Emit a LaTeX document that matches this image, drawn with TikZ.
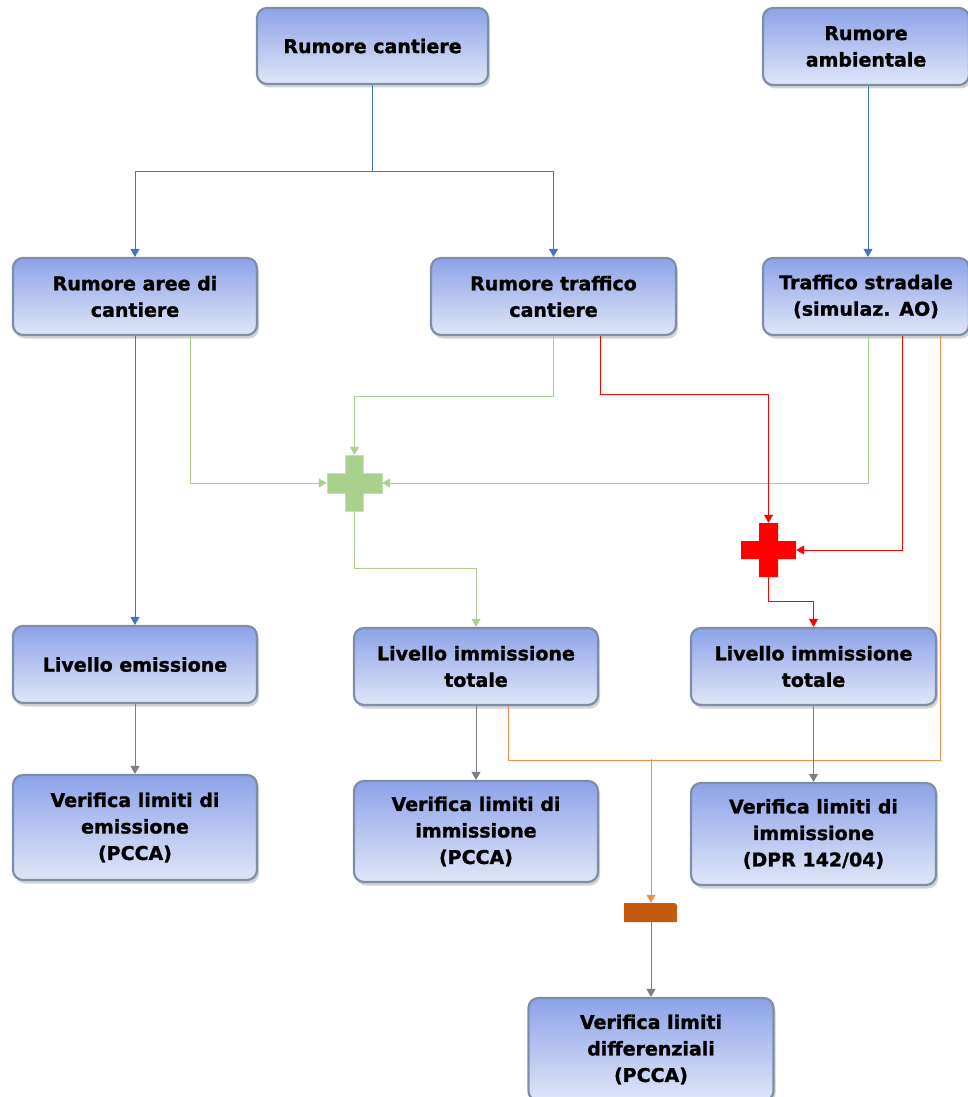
\documentclass[tikz,border=0pt]{standalone}
\usepackage{fontspec}
\setmainfont{DejaVu Sans}[BoldFeatures={FakeBold=1.2}]
\usetikzlibrary{arrows.meta,shadows,calc}
\definecolor{bxtop}{RGB}{140,163,232}
\definecolor{bxbot}{RGB}{224,230,248}
\definecolor{bxborder}{RGB}{126,142,168}
\definecolor{cblue}{RGB}{68,114,196}
\definecolor{cgreen}{RGB}{169,209,142}
\definecolor{cgreenb}{RGB}{197,224,180}
\definecolor{cred}{RGB}{255,0,0}
\definecolor{corange}{RGB}{240,140,80}
\definecolor{cbar}{RGB}{197,90,17}
\definecolor{cgrey}{RGB}{127,127,127}
\tikzset{
  box/.style={draw=bxborder, line width=2.2pt, rounded corners=10pt,
    top color=bxtop, bottom color=bxbot, align=center, inner sep=0pt,
    font=\bfseries\fontsize{19}{26.5}\selectfont,
    drop shadow={opacity=0.35, shadow xshift=2pt, shadow yshift=-3.5pt}},
  conn/.style={line width=1pt, -{Triangle[width=9pt,length=8pt]}},
  plain/.style={line width=1pt},
  anchorbox/.style={inner sep=0pt, minimum width=54pt, minimum height=54pt},
}
\begin{document}
\begin{tikzpicture}[x=1pt,y=-1pt]
\useasboundingbox (0,0) rectangle (968,1097);
\begin{scope}
\clip (0,0) rectangle (968,1097);
% boxes
\node[box, minimum width=231pt, minimum height=76pt] (cant) at (372.5,46) {Rumore cantiere};
\node[box, minimum width=206pt, minimum height=77pt] (amb) at (866,46.5) {Rumore\\ambientale};
\node[box, minimum width=244pt, minimum height=77pt] (aree) at (135,296.5) {Rumore aree di\\cantiere};
\node[box, minimum width=245pt, minimum height=77pt] (traf) at (553.5,296.5) {Rumore traffico\\cantiere};
\node[box, minimum width=206pt, minimum height=77pt] (strad) at (866,296.5) {Traffico stradale\\(simulaz. AO)};
\node[box, minimum width=244pt, minimum height=77pt] (emis) at (135,664.5) {Livello emissione};
\node[box, minimum width=244pt, minimum height=77pt] (imm1) at (476,666.5) {Livello immissione\\totale};
\node[box, minimum width=245pt, minimum height=77pt] (imm2) at (813.5,666.5) {Livello immissione\\totale};
\node[box, minimum width=244pt, minimum height=105pt] (ver1) at (135,827.5) {Verifica limiti di\\emissione\\(PCCA)};
\node[box, minimum width=244pt, minimum height=101pt] (ver2) at (476,831.5) {Verifica limiti di\\immissione\\(PCCA)};
\node[box, minimum width=245pt, minimum height=102pt] (ver3) at (813.5,834) {Verifica limiti di\\immissione\\(DPR 142/04)};
\node[box, minimum width=245pt, minimum height=103pt] (ver4) at (651,1049.5) {Verifica limiti\\differenziali\\(PCCA)};
\end{scope}
% green plus
\fill[cgreen, draw=cgreenb, line width=1pt]
  (345,455) -- (363,455) -- (363,473) -- (382,473) -- (382,493) -- (363,493)
  -- (363,511) -- (345,511) -- (345,493) -- (327,493) -- (327,473) -- (345,473) -- cycle;
\node[anchorbox, minimum width=55pt, minimum height=56pt] (gplus) at (354.5,483) {};
% red plus
\fill[cred]
  (759,523) -- (778,523) -- (778,541) -- (796,541) -- (796,559) -- (778,559)
  -- (778,577) -- (759,577) -- (759,559) -- (741,559) -- (741,541) -- (759,541) -- cycle;
\node[anchorbox, minimum width=55pt, minimum height=54pt] (rplus) at (768.5,550) {};
% orange bar
\fill[cbar] (624,903) -- (674,903) to[out=0,in=90] (677,906) -- (677,922) -- (624,922) -- cycle;
\node[inner sep=0pt, minimum width=53pt, minimum height=19pt] (obar) at (651,912.5) {};
% blue connectors
\draw[conn, cblue] (cant.south) -- ++(0,86) -| (aree.north);
\draw[conn, cblue] (cant.south) -- ++(0,86) -| (traf.north);
\draw[conn, cblue] ([xshift=2pt]amb.south) -- ([xshift=2pt]strad.north);
\draw[conn, cblue] (aree.south) -- (emis.north);
% green connectors
\draw[conn, cgreen] ([xshift=55pt]aree.south) |- (gplus.west);
\draw[conn, cgreen] (traf.south) -- ++(0,60) -| (gplus.north);
\draw[conn, cgreen] ([xshift=2pt]strad.south) |- (gplus.east);
\draw[conn, cgreen] (gplus.south) -- ++(0,57) -| (imm1.north);
% red connectors
\draw[conn, cred] ([xshift=46.5pt]traf.south) -- ++(0,58) -| (rplus.north);
\draw[conn, cred] ([xshift=36pt]strad.south) |- (rplus.east);
\draw[conn, cred] (rplus.south) -- ++(0,24) -| (imm2.north);
% orange connectors
\draw[plain, corange] ([xshift=32pt]imm1.south) -- ++(0,54) -| ([xshift=74pt]strad.south);
\coordinate (oj) at (651,759);
\draw[conn, corange] (oj) -- (obar.north);
% grey connectors
\draw[conn, cgrey] (emis.south) -- (ver1.north);
\draw[conn, cgrey] (imm1.south) -- (ver2.north);
\draw[conn, cgrey] (imm2.south) -- (ver3.north);
\draw[conn, cgrey] (obar.south) -- (ver4.north);
\end{tikzpicture}
\end{document}
